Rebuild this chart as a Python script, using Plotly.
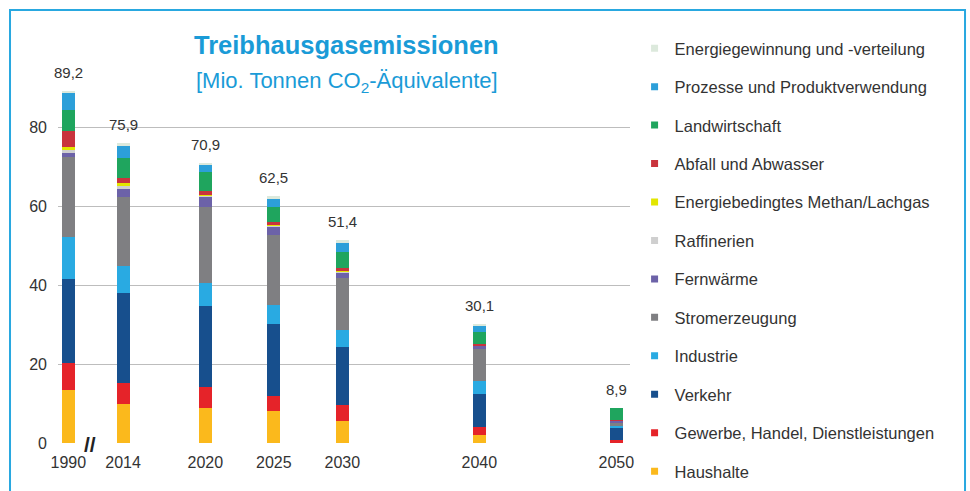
import plotly.graph_objects as go

# Jahre und Position auf der Achse (1990 vor dem Achsenbruch)
jahre = [1990, 2014, 2020, 2025, 2030, 2040, 2050]
summen = [89.2, 75.9, 70.9, 62.5, 51.4, 30.1, 8.9]

# Sektoren von unten nach oben gestapelt (Mio. t CO2-Äq.)
haushalte = [13.4, 9.9, 8.8, 8.0, 5.6, 2.0, 0.2]
ghd = [6.9, 5.4, 5.3, 4.0, 4.0, 2.0, 0.5]
verkehr = [21.2, 22.6, 20.6, 18.2, 14.8, 8.5, 3.3]
industrie = [10.7, 6.9, 5.7, 4.8, 4.2, 3.3, 0.3]
stromerzeugung = [20.1, 17.6, 19.4, 17.7, 13.1, 8.0, 0.7]
fernwaerme = [1.2, 1.8, 2.6, 2.1, 1.4, 0.8, 0.6]
raffinerien = [0.7, 0.9, 0.3, 0.3, 0.3, 0.1, 0.0]
methan_lachgas = [0.8, 0.6, 0.2, 0.2, 0.2, 0.1, 0.1]
abfall = [4.1, 1.3, 0.8, 0.6, 0.6, 0.3, 0.2]
landwirtschaft = [5.2, 5.1, 4.8, 3.8, 4.2, 3.0, 3.0]
prozesse = [4.4, 3.3, 2.1, 2.3, 2.2, 1.6, 0.0]
energiegewinnung = [0.5, 0.5, 0.3, 0.5, 0.8, 0.4, 0.0]

sektoren = [
    ("Haushalte", haushalte, "#FBB91C"),
    ("Gewerbe, Handel, Dienstleistungen", ghd, "#E52329"),
    ("Verkehr", verkehr, "#174F8D"),
    ("Industrie", industrie, "#29AAE2"),
    ("Stromerzeugung", stromerzeugung, "#7F7F82"),
    ("Fernwärme", fernwaerme, "#6C62A8"),
    ("Raffinerien", raffinerien, "#CFCFCF"),
    ("Energiebedingtes Methan/Lachgas", methan_lachgas, "#E2E600"),
    ("Abfall und Abwasser", abfall, "#C9343D"),
    ("Landwirtschaft", landwirtschaft, "#1FA55E"),
    ("Prozesse und Produktverwendung", prozesse, "#2C9FD9"),
    ("Energiegewinnung und -verteilung", energiegewinnung, "#DCE9DC"),
]

BLAU = "#1A9BD7"
TEXT = "#333333"
SCHRIFT = "Liberation Sans, Arial, sans-serif"

# Achsenbruch: 1990 wird direkt links neben 2014 gesetzt
xpos = [j if j >= 2014 else 2010 for j in jahre]

fig = go.Figure()

for name, werte, farbe in sektoren:
    fig.add_trace(go.Bar(
        x=xpos, y=werte, name=name, marker_color=farbe,
        marker_line_width=0, width=0.95, showlegend=False,
        hoverinfo="name+y",
    ))

# Legende mit kleinen Quadraten, oberster Sektor zuerst
for name, werte, farbe in reversed(sektoren):
    fig.add_trace(go.Scatter(
        x=[None], y=[None], mode="markers", name=name,
        marker=dict(symbol="square", size=7, color=farbe),
        legendgroup=name,
    ))

# Summen über den Balken
for x, s in zip(xpos, summen):
    fig.add_annotation(
        x=x, y=s, text=f"{s:.1f}".replace(".", ","), showarrow=False,
        yanchor="bottom", yshift=8, font=dict(size=15, color=TEXT),
    )

# Achsenbruch-Zeichen
fig.add_annotation(
    x=2011.6, y=0, text="<b>//</b>", showarrow=False,
    font=dict(size=21, color="#222222"), yshift=-1,
)

# Titel
fig.add_annotation(
    xref="paper", yref="paper", x=0.505, y=1.0964, yanchor="middle",
    text="<b>Treibhausgasemissionen</b>",
    showarrow=False, font=dict(size=25.5, color=BLAU),
)
fig.add_annotation(
    xref="paper", yref="paper", x=0.505, y=0.9945, yanchor="middle",
    text="[Mio. Tonnen CO<sub>2</sub>-Äquivalente]",
    showarrow=False, font=dict(size=22, color=BLAU),
)

# Rahmen
fig.add_shape(
    type="rect", xref="paper", yref="paper",
    x0=-0.0839, x1=1.5857, y0=-0.3, y1=1.1928,
    line=dict(color="#29A8E0", width=2),
)

fig.update_layout(
    width=970, height=491,
    margin=dict(l=58, r=340, t=80, b=48),
    barmode="stack",
    plot_bgcolor="white", paper_bgcolor="white",
    font=dict(family=SCHRIFT, color=TEXT, size=14),
    xaxis=dict(
        range=[2009.25, 2051], tickvals=xpos, ticktext=[str(j) for j in jahre],
        showgrid=False, zeroline=False, showline=False, ticks="",
        tickfont=dict(size=16, color=TEXT), ticklabelstandoff=8,
    ),
    yaxis=dict(
        range=[0, 91.9], tickvals=[0, 20, 40, 60, 80],
        showgrid=True, gridcolor="#BDBDBD", gridwidth=1,
        zeroline=False, showline=False, ticks="",
        tickfont=dict(size=16, color=TEXT), ticklabelstandoff=10,
    ),
    legend=dict(
        x=1.008, y=1.135, xanchor="left", yanchor="top",
        font=dict(size=16.5, color=TEXT), tracegroupgap=14,
        itemwidth=30, bgcolor="rgba(0,0,0,0)", maxheight=1,
    ),
    showlegend=True,
)

# Seitenrand des Browsers entfernen, ohne Werkzeugleiste
fig.write_html(
    "out.html",
    config={"displayModeBar": False},
    post_script="document.body.style.margin='0';",
)
